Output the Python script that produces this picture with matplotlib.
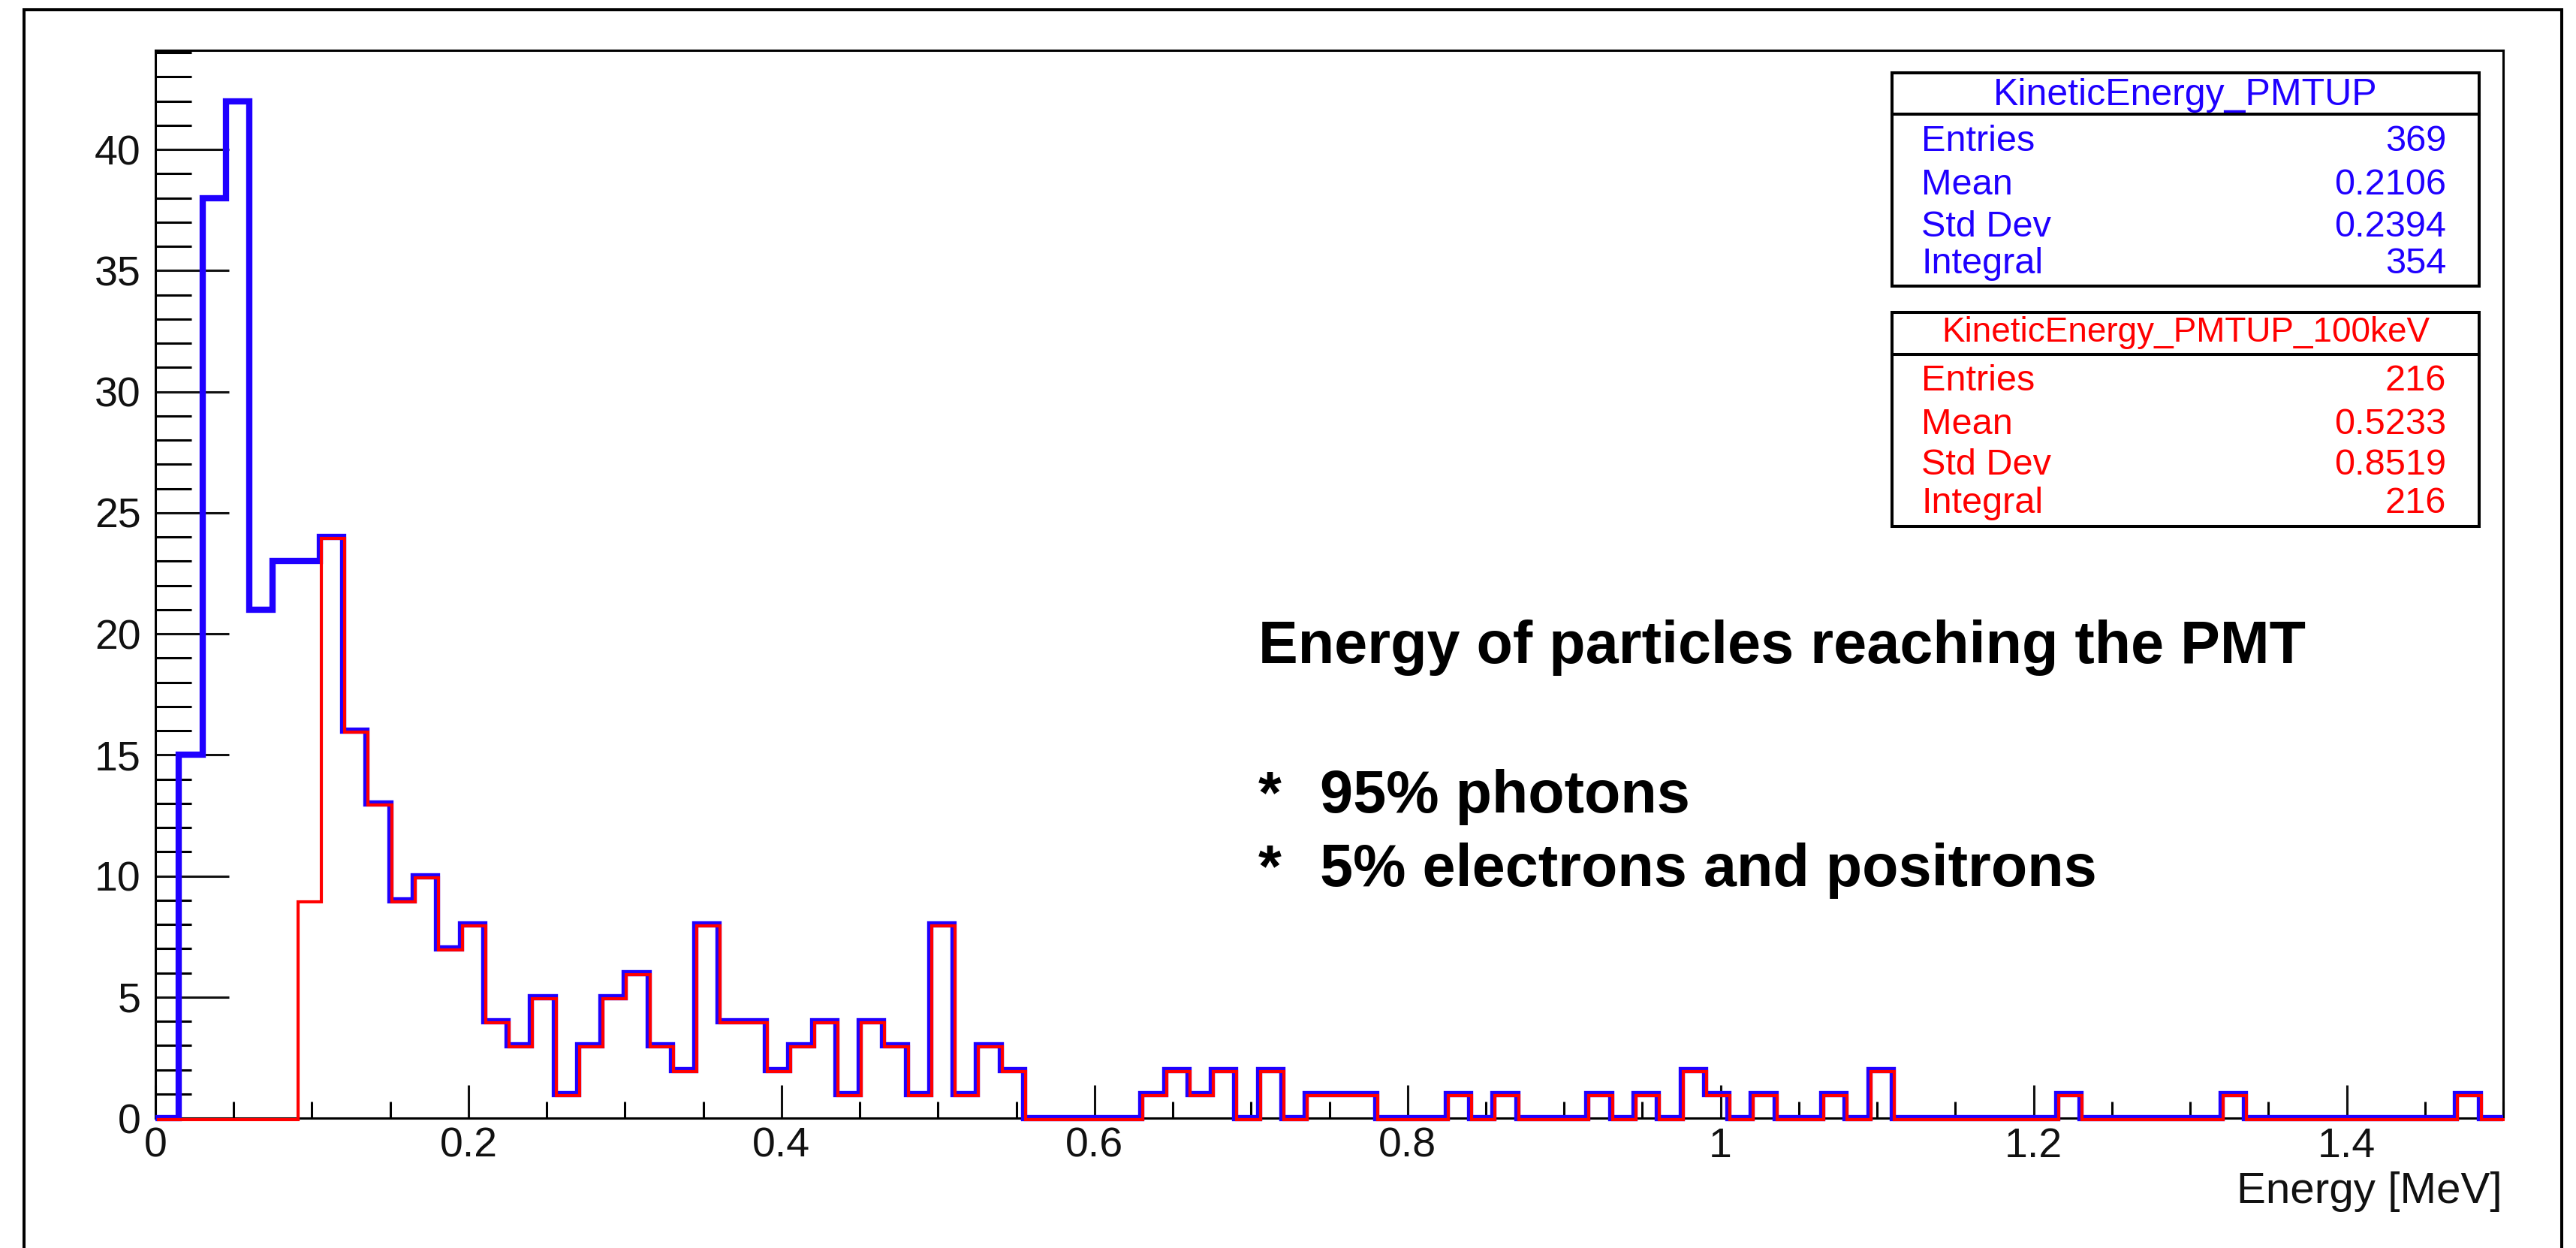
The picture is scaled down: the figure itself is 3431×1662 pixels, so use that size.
import matplotlib
matplotlib.use("Agg")
import matplotlib.pyplot as plt
from matplotlib.ticker import MultipleLocator, FuncFormatter
from matplotlib.patches import Rectangle
from matplotlib.lines import Line2D
from matplotlib import transforms
import numpy as np

plt.rcParams['font.family'] = ['Liberation Sans', 'DejaVu Sans']

# binning of the histograms (MeV)
e_min = 0.0
e_max = 1.5
n_bins = 100

# KineticEnergy_PMTUP (all particles)
counts_all = [0, 15, 38, 42, 21, 23, 23, 24, 16, 13,
              9, 10, 7, 8, 4, 3, 5, 1, 3, 5,
              6, 3, 2, 8, 4, 4, 2, 3, 4, 1,
              4, 3, 1, 8, 1, 3, 2, 0, 0, 0,
              0, 0, 1, 2, 1, 2, 0, 2, 0, 1,
              1, 1, 0, 0, 0, 1, 0, 1, 0, 0,
              0, 1, 0, 1, 0, 2, 1, 0, 1, 0,
              0, 1, 0, 2, 0, 0, 0, 0, 0, 0,
              0, 1, 0, 0, 0, 0, 0, 0, 1, 0,
              0, 0, 0, 0, 0, 0, 0, 0, 1, 0]

# KineticEnergy_PMTUP_100keV
counts_100kev = [0, 0, 0, 0, 0, 0, 9, 24, 16, 13,
                 9, 10, 7, 8, 4, 3, 5, 1, 3, 5,
                 6, 3, 2, 8, 4, 4, 2, 3, 4, 1,
                 4, 3, 1, 8, 1, 3, 2, 0, 0, 0,
                 0, 0, 1, 2, 1, 2, 0, 2, 0, 1,
                 1, 1, 0, 0, 0, 1, 0, 1, 0, 0,
                 0, 1, 0, 1, 0, 2, 1, 0, 1, 0,
                 0, 1, 0, 2, 0, 0, 0, 0, 0, 0,
                 0, 1, 0, 0, 0, 0, 0, 0, 1, 0,
                 0, 0, 0, 0, 0, 0, 0, 0, 1, 0]

name_all = "KineticEnergy_PMTUP"
name_100kev = "KineticEnergy_PMTUP_100keV"
stat_names = ["Entries", "Mean", "Std Dev", "Integral"]
stats_all = ["369", "0.2106", "0.2394", "354"]
stats_100kev = ["216", "0.5233", "0.8519", "216"]

note_title = "Energy of particles reaching the PMT"
note_lines = ["95% photons", "5% electrons and positrons"]

BLUE = '#1f00ff'
RED = '#ff0000'

W, H = 3431, 1662
fig = plt.figure(figsize=(W / 100, H / 100), dpi=100)


def fx(px):
    return px / W


def fy(py):
    return 1 - py / H


ax = fig.add_axes([fx(207), fy(1489), fx(3334) - fx(207), fy(67) - fy(1489)])

edges = np.linspace(e_min, e_max, n_bins + 1)
ax.stairs(counts_all, edges, color=BLUE, lw=6.0, baseline=0, clip_on=False, zorder=3)
shift = transforms.offset_copy(ax.transData, fig=fig, x=2, y=-2, units='dots')
ax.stairs(counts_100kev, edges, color=RED, lw=3.0, baseline=0, clip_on=False,
          transform=shift, zorder=4)

ax.set_xlim(e_min, e_max)
ax.set_ylim(0, 44.1)

ax.xaxis.set_major_locator(MultipleLocator(0.2))
ax.xaxis.set_minor_locator(MultipleLocator(0.05))
ax.yaxis.set_major_locator(MultipleLocator(5))
ax.yaxis.set_minor_locator(MultipleLocator(1))
ax.xaxis.set_major_formatter(FuncFormatter(lambda v, p: '%g' % v))
ax.yaxis.set_major_formatter(FuncFormatter(lambda v, p: '%g' % v))

ax.tick_params(axis='y', which='major', direction='in', length=70.6, width=2.2,
               labelsize=40, pad=14, colors='#111111')
ax.tick_params(axis='y', which='minor', direction='in', length=34.6, width=2.2)
ax.tick_params(axis='x', which='major', direction='in', length=31.7, width=2.2,
               labelsize=40, pad=8.6, colors='#111111')
ax.tick_params(axis='x', which='minor', direction='in', length=15.8, width=2.2)
ax.tick_params(top=False, right=False, which='both')
for s in ax.spines.values():
    s.set_linewidth(2.2)

fig.text(fx(3333), fy(1602), "Energy [MeV]", ha='right', va='baseline',
         fontsize=42, color='#111111')

# outer frame (bottom edge is off the picture)
fig.add_artist(Line2D([fx(32), fx(32), fx(3412), fx(3412)],
                      [-0.02, fy(13), fy(13), -0.02],
                      transform=fig.transFigure, color='black', lw=2.9,
                      solid_joinstyle='miter'))


def stats_box(top, bottom, sep, name, values, color, title_base, title_size, rows):
    fig.add_artist(Rectangle((fx(2520), fy(bottom)), fx(3302) - fx(2520),
                             fy(top) - fy(bottom), transform=fig.transFigure,
                             fill=False, ec='black', lw=2.9))
    fig.add_artist(Line2D([fx(2520), fx(3302)], [fy(sep), fy(sep)],
                          transform=fig.transFigure, color='black', lw=2.9))
    fig.text(fx(2911), fy(title_base), name, ha='center', va='baseline',
             fontsize=title_size, color=color)
    for lab, val, yb in zip(stat_names, values, rows):
        fig.text(fx(2559), fy(yb), lab, ha='left', va='baseline', fontsize=35, color=color)
        fig.text(fx(3258), fy(yb), val, ha='right', va='baseline', fontsize=35, color=color)


stats_box(97, 381, 152, name_all, stats_all, BLUE, 140, 36, [201, 259, 315, 364])
stats_box(416, 701, 472, name_100kev, stats_100kev, RED, 455, 33, [520, 578, 632, 683])

fig.text(fx(1676), fy(883), note_title, ha='left', va='baseline',
         fontsize=57, fontweight='bold')
for line, yb in zip(note_lines, [1082, 1180]):
    fig.text(fx(1676), fy(yb), "*", ha='left', va='baseline', fontsize=57, fontweight='bold')
    fig.text(fx(1758), fy(yb), line, ha='left', va='baseline', fontsize=57, fontweight='bold')

fig.savefig('out.png', dpi=100)
